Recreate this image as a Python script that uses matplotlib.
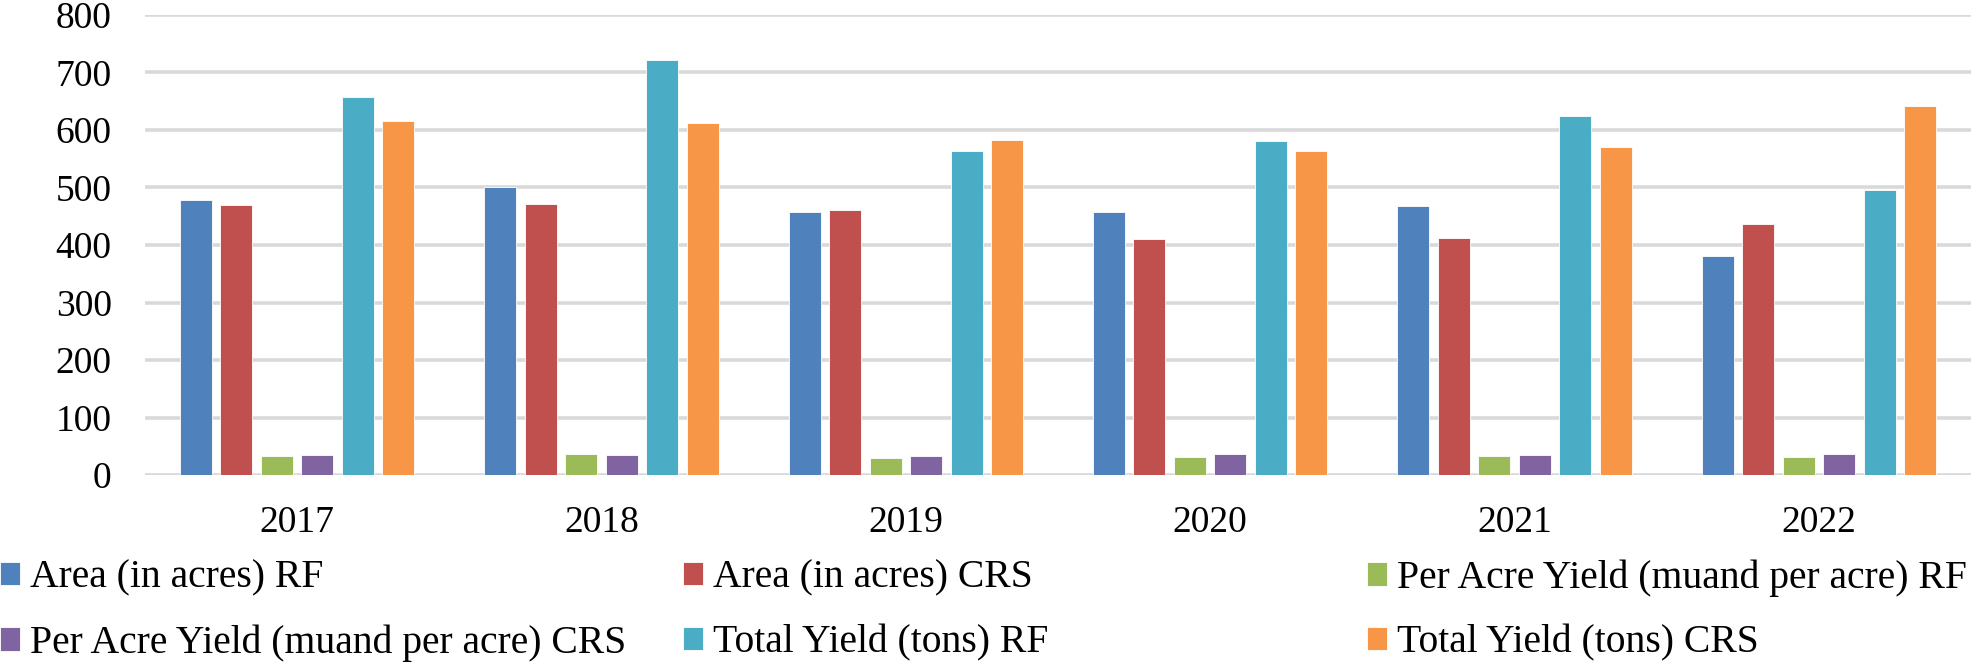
import matplotlib
matplotlib.use('Agg')
from matplotlib import pyplot as plt
import numpy as np

# Data
years = ['2017', '2018', '2019', '2020', '2021', '2022']
area_rf = [479, 500, 457, 457, 467, 381]
area_crs = [469, 471, 461, 410, 412, 437]
yield_acre_rf = [33, 36, 30, 31, 33, 32]
yield_acre_crs = [35, 34, 33, 37, 34, 37]
total_rf = [658, 721, 564, 580, 624, 496]
total_crs = [616, 612, 582, 564, 570, 642]

labels = ['Area (in acres) RF', 'Area (in acres) CRS',
          'Per Acre Yield (muand per acre) RF', 'Per Acre Yield (muand per acre) CRS',
          'Total Yield (tons) RF', 'Total Yield (tons) CRS']
series = [area_rf, area_crs, yield_acre_rf, yield_acre_crs, total_rf, total_crs]
colors = ['#4F81BD', '#C0504D', '#9BBB59', '#8064A2', '#4BACC6', '#F79646']

plt.rcParams['font.family'] = ['Liberation Serif', 'DejaVu Serif']
fs = 27

fig = plt.figure(figsize=(19.73, 6.65), dpi=100)
ax = fig.add_axes([145/1973, 1 - 475/665, 1826/1973, 460/665])

x = np.arange(len(years))
pitch = 0.133
width = 0.105
bars = []
for i, (vals, c) in enumerate(zip(series, colors)):
    b = ax.bar(x + (i - 2.5) * pitch, vals, width, color=c, zorder=3,
               edgecolor='white', linewidth=0.6)
    bars.append(b)

ax.set_xlim(-0.5, 5.5)
ax.set_ylim(0, 800)
ax.set_yticks(range(0, 801, 100))
ax.set_xticks(x)
ax.set_xticklabels(years)
ax.yaxis.grid(True, color='#D9D9D9', linewidth=2.6, zorder=0)
ax.set_axisbelow(True)
for s in ax.spines.values():
    s.set_visible(False)
ax.tick_params(axis='both', length=0, labelsize=fs)
ax.tick_params(axis='y', pad=24)
ax.tick_params(axis='x', pad=22)

# legend: two rows of three, one legend per entry
col_x = [0 / 1973, 683 / 1973, 1367 / 1973]
row_y = [1 - 578 / 665, 1 - 643 / 665]
for i, (b, lab) in enumerate(zip(bars, labels)):
    r, c = divmod(i, 3)
    fig.legend(handles=[b], labels=[lab], loc='center left',
               bbox_to_anchor=(col_x[c], row_y[r]), frameon=False,
               fontsize=28.5, borderpad=0, borderaxespad=0,
               handlelength=0.5, handleheight=0.55, handletextpad=0.25)

fig.savefig('out.png', dpi=100)
